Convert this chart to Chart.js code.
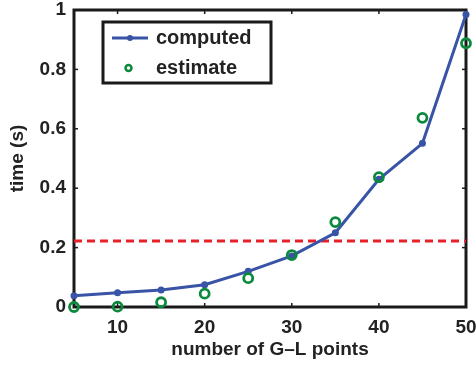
<!DOCTYPE html>
<html>
<head>
<meta charset="utf-8">
<script src="https://cdn.jsdelivr.net/npm/chart.js@4"></script>
<style>
html, body { margin:0; padding:0; background:#fff; }
#wrap { width:476px; height:366px; }
</style>
</head>
<body>
<div id="wrap"><canvas id="myChart" width="476" height="366"></canvas></div>
<script>
// data
var xPoints = [5, 10, 15, 20, 25, 30, 35, 40, 45, 50];
var computed = [0.038, 0.048, 0.057, 0.075, 0.120, 0.172, 0.250, 0.430, 0.551, 0.985];
var estimate = [0.000, 0.001, 0.016, 0.045, 0.097, 0.175, 0.286, 0.437, 0.637, 0.888];
var threshold = 0.222;
var xTicks = [10, 20, 30, 40, 50];
var yTicks = [0, 0.2, 0.4, 0.6, 0.8, 1];

var FONT = 'Liberation Sans, Arial, Helvetica, sans-serif';
var TXT = '#222';

function toXY(arr){
    var out = [];
    for(var i = 0; i < xPoints.length; i++){
        out.push({x: xPoints[i], y: arr[i]});
    }
    return out;
}

// frame, inward ticks and boxed legend
var framePlugin = {
    id: 'frame',
    beforeDatasetsDraw: function(chart){
        var ctx = chart.ctx;
        var a = chart.chartArea;
        var xs = chart.scales.x, ys = chart.scales.y;
        ctx.save();
        ctx.strokeStyle = '#1a1a1a';
        ctx.lineWidth = 1.5;
        xTicks.forEach(function(v){
            var px = xs.getPixelForValue(v);
            ctx.beginPath(); ctx.moveTo(px, a.bottom); ctx.lineTo(px, a.bottom - 4); ctx.stroke();
            ctx.beginPath(); ctx.moveTo(px, a.top); ctx.lineTo(px, a.top + 4); ctx.stroke();
        });
        yTicks.forEach(function(v){
            var py = ys.getPixelForValue(v);
            ctx.beginPath(); ctx.moveTo(a.left, py); ctx.lineTo(a.left + 4, py); ctx.stroke();
            ctx.beginPath(); ctx.moveTo(a.right, py); ctx.lineTo(a.right - 4, py); ctx.stroke();
        });
        ctx.lineWidth = 3;
        ctx.strokeRect(a.left, a.top, a.right - a.left, a.bottom - a.top);
        ctx.restore();
    },
    afterDatasetsDraw: function(chart){
        var ctx = chart.ctx;
        ctx.save();
        // legend
        var lx = 103, ly = 22, lw = 168, lh = 61;
        ctx.fillStyle = '#fff';
        ctx.fillRect(lx, ly, lw, lh);
        ctx.lineWidth = 3;
        ctx.strokeStyle = '#1a1a1a';
        ctx.strokeRect(lx, ly, lw, lh);
        var d0 = chart.data.datasets[0], d1 = chart.data.datasets[1];
        ctx.strokeStyle = d0.borderColor;
        ctx.lineWidth = 3;
        ctx.beginPath(); ctx.moveTo(112, 38); ctx.lineTo(148, 38); ctx.stroke();
        ctx.fillStyle = d0.borderColor;
        ctx.beginPath(); ctx.arc(130, 38, 3, 0, Math.PI * 2); ctx.fill();
        ctx.strokeStyle = d1.borderColor;
        ctx.lineWidth = 2.5;
        ctx.beginPath(); ctx.arc(128.5, 68, 3, 0, Math.PI * 2); ctx.stroke();
        ctx.fillStyle = TXT;
        ctx.font = 'bold 20px ' + FONT;
        ctx.textBaseline = 'middle';
        ctx.textAlign = 'left';
        ctx.fillText(d0.label, 156, 38);
        ctx.fillText(d1.label, 156, 68);
        ctx.restore();
    }
};

var ctx = document.getElementById('myChart').getContext('2d');
var myChart = new Chart(ctx, {
    type: 'scatter',
    data: {
        datasets: [{
            label: 'computed',
            data: toXY(computed),
            showLine: true,
            clip: false,
            borderColor: '#3953a6',
            backgroundColor: '#3953a6',
            borderWidth: 3,
            pointRadius: 3.5,
            pointBorderWidth: 0,
            order: 2
        },{
            label: 'estimate',
            data: toXY(estimate),
            showLine: false,
            clip: false,
            borderColor: '#0b8a3e',
            backgroundColor: 'rgba(255,255,255,0)',
            pointRadius: 4.5,
            pointBorderWidth: 2.8,
            order: 1
        },{
            label: 'threshold',
            data: [{x: 5, y: threshold}, {x: 50, y: threshold}],
            showLine: true,
            borderColor: '#e8202a',
            borderWidth: 3,
            borderDash: [8, 5],
            pointRadius: 0,
            order: 3
        }]
    },
    options: {
        responsive: false,
        animation: false,
        layout: { padding: { top: 10, right: 10, left: 0, bottom: 0 } },
        plugins: {
            legend: { display: false },
            tooltip: { enabled: false }
        },
        scales: {
            x: {
                type: 'linear',
                min: 5,
                max: 50,
                afterBuildTicks: function(scale){
                    scale.ticks = xTicks.map(function(v){ return {value: v}; });
                },
                afterFit: function(scale){
                    scale.height = 59;
                    scale.paddingLeft = 0;
                    scale.paddingRight = 0;
                },
                grid: { display: false, drawTicks: false },
                border: { display: false },
                ticks: {
                    color: TXT,
                    padding: 9,
                    maxRotation: 0,
                    font: { family: FONT, size: 19, weight: 'bold' }
                },
                title: {
                    display: true,
                    text: 'number of G\u2013L points',
                    color: TXT,
                    padding: { top: 0, bottom: 5 },
                    font: { family: FONT, size: 19, weight: 'bold' }
                }
            },
            y: {
                min: 0,
                max: 1,
                afterBuildTicks: function(scale){
                    scale.ticks = yTicks.map(function(v){ return {value: v}; });
                },
                afterFit: function(scale){
                    scale.width = 74;
                    scale.paddingTop = 0;
                    scale.paddingBottom = 0;
                },
                grid: { display: false, drawTicks: false },
                border: { display: false },
                ticks: {
                    color: TXT,
                    padding: 8,
                    font: { family: FONT, size: 19, weight: 'bold' },
                    callback: function(v){ return String(Math.round(v * 10) / 10); }
                },
                title: {
                    display: true,
                    text: 'time (s)',
                    color: TXT,
                    padding: { top: 6, bottom: 0 },
                    font: { family: FONT, size: 19, weight: 'bold' }
                }
            }
        }
    },
    plugins: [framePlugin]
});
</script>
</body>
</html>
